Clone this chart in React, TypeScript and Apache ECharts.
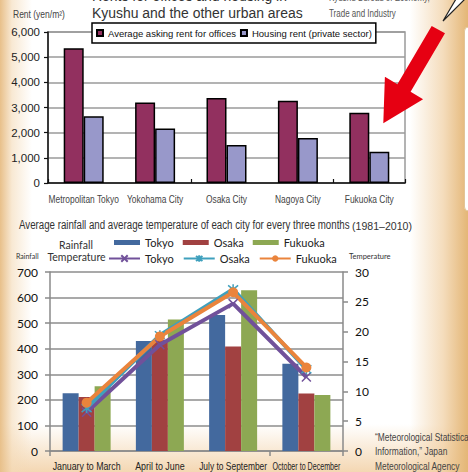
import React, { useEffect, useRef } from 'react';
import * as echarts from 'echarts';

const SANS = '"Liberation Sans", Arial, sans-serif';
const LATO = 'Lato, "Noto Sans", sans-serif';

// Top chart: rents (yen/m2)
const cities = ['Metropolitan Tokyo', 'Yokohama City', 'Osaka City', 'Nagoya City', 'Fukuoka City'];
const officeRent = [5350, 3200, 3380, 3270, 2790];
const housingRent = [2650, 2170, 1510, 1790, 1240];
const rentSeries = ['Average asking rent for offices', 'Housing rent (private sector)'];

// Bottom chart: rainfall (mm) and temperature (°C) per three months
const seasons = ['January to March', 'April to June', 'July to September', 'October to December'];
const rainTokyo = [226, 430, 532, 341];
const rainOsaka = [211, 434, 409, 225];
const rainFukuoka = [253, 514, 629, 219];
const tempTokyo = [6.5, 17.8, 24.7, 12.4];
const tempOsaka = [7.2, 19.4, 27.1, 13.7];
const tempFukuoka = [8.1, 19.2, 26.6, 14.0];
const cityNames = ['Tokyo', 'Osaka', 'Fukuoka'];

const X_SYMBOL = 'path://M0,0L10,10M10,0L0,10';
const STAR_SYMBOL = 'path://M1,1L9,9M9,1L1,9M5,0L5,10';

function txt(text: string, x: number, y: number, size: number, family: string, fill: string, opts: any = {}) {
  return {
    type: 'text',
    x,
    y,
    z: 50,
    silent: true,
    scaleX: opts.scaleX ?? 1,
    style: {
      text,
      fontSize: size,
      fontFamily: family,
      fill,
      align: opts.align ?? 'left',
      verticalAlign: 'middle',
    },
  };
}

let measureCtx: CanvasRenderingContext2D | null = null;
function textWidth(text: string, size: number, family: string) {
  if (!measureCtx) measureCtx = document.createElement('canvas').getContext('2d');
  if (!measureCtx) return text.length * size * 0.5;
  measureCtx.font = `${size}px ${family}`;
  return measureCtx.measureText(text).width;
}

export default function App() {
  const ref = useRef<HTMLDivElement>(null);
  useEffect(() => {
    if (!ref.current) return;
    const chart = echarts.init(ref.current, undefined, { renderer: 'svg' });
    const grayAxis = { color: '#8a8a8a', width: 1.5 };
    const option: any = {
      animation: false,
      textStyle: { fontFamily: SANS },
      grid: [
        { left: 48, top: 32, width: 357, height: 151, show: true, borderColor: '#9a9a9a', borderWidth: 1.5, backgroundColor: 'transparent' },
        { left: 50, top: 272, width: 293, height: 179 },
      ],
      xAxis: [
        {
          type: 'category', gridIndex: 0, data: cities,
          axisLine: { lineStyle: { color: '#111', width: 1.5 } },
          axisTick: { show: true, inside: true, length: 4, lineStyle: { color: '#111', width: 1.2 } },
          axisLabel: { show: false },
          splitLine: { show: false },
        },
        {
          type: 'category', gridIndex: 1, data: seasons,
          axisLine: { lineStyle: grayAxis },
          axisTick: { show: true, length: 5, lineStyle: grayAxis },
          axisLabel: { show: false },
          splitLine: { show: false },
        },
      ],
      yAxis: [
        {
          type: 'value', gridIndex: 0, min: 0, max: 6000, interval: 1000,
          axisLine: { show: true, lineStyle: { color: '#111', width: 1.5 } },
          axisTick: { show: true, length: 4, lineStyle: { color: '#111', width: 1.2 } },
          axisLabel: { color: '#222', fontSize: 11.5, fontFamily: SANS, margin: 8, formatter: (v: number) => v.toLocaleString('en-US') },
          splitLine: { lineStyle: { color: '#9a9a9a', width: 1.5 } },
        },
        {
          type: 'value', gridIndex: 1, min: 0, max: 700, interval: 100,
          axisLine: { show: true, lineStyle: grayAxis },
          axisTick: { show: true, length: 5, lineStyle: grayAxis },
          axisLabel: { color: '#111', fontSize: 12, fontFamily: LATO, margin: 12 },
          splitLine: { lineStyle: { color: '#8c8c8c', width: 1.5 } },
        },
        {
          type: 'value', gridIndex: 1, position: 'right', min: 0, max: 30, interval: 5,
          axisLine: { show: true, lineStyle: grayAxis },
          axisTick: { show: true, length: 5, lineStyle: grayAxis },
          axisLabel: { color: '#111', fontSize: 12, fontFamily: LATO, margin: 12 },
          splitLine: { show: false },
        },
      ],
      legend: [
        {
          data: rentSeries, left: 92, top: 23, padding: [5, 4, 5, 4], itemWidth: 6, itemHeight: 6, itemGap: 4,
          backgroundColor: '#fff', borderColor: '#000', borderWidth: 1.5, icon: 'rect', selectedMode: false,
          textStyle: { fontFamily: SANS, fontSize: 9.5, color: '#111' },
        },
        {
          data: cityNames, left: 114, top: 237, padding: 0, itemWidth: 26, itemHeight: 5, itemGap: 9, icon: 'rect',
          selectedMode: false, textStyle: { fontFamily: LATO, fontSize: 11, color: '#222' },
        },
        {
          data: cityNames.map((c) => c + ' temperature'), left: 108, top: 253, padding: 0, itemWidth: 31, itemHeight: 8,
          itemGap: 9, selectedMode: false, formatter: (n: string) => n.replace(' temperature', ''),
          textStyle: { fontFamily: LATO, fontSize: 11, color: '#222' },
        },
      ],
      series: [
        {
          name: rentSeries[0], type: 'bar', xAxisIndex: 0, yAxisIndex: 0, data: officeRent, barWidth: 20, barGap: '0%',
          itemStyle: { color: '#92305F', borderColor: '#000', borderWidth: 1.5 },
        },
        {
          name: rentSeries[1], type: 'bar', xAxisIndex: 0, yAxisIndex: 0, data: housingRent, barWidth: 20, barGap: '0%',
          itemStyle: { color: '#9898CA', borderColor: '#000', borderWidth: 1.5 },
        },
        { name: 'Tokyo', type: 'bar', xAxisIndex: 1, yAxisIndex: 1, data: rainTokyo, barWidth: 16, barGap: '0%', itemStyle: { color: '#43699E' } },
        { name: 'Osaka', type: 'bar', xAxisIndex: 1, yAxisIndex: 1, data: rainOsaka, barWidth: 16, barGap: '0%', itemStyle: { color: '#A14141' } },
        { name: 'Fukuoka', type: 'bar', xAxisIndex: 1, yAxisIndex: 1, data: rainFukuoka, barWidth: 16, barGap: '0%', itemStyle: { color: '#8DA853' } },
        {
          name: 'Tokyo temperature', type: 'line', xAxisIndex: 1, yAxisIndex: 2, data: tempTokyo,
          symbol: X_SYMBOL, symbolSize: 9, lineStyle: { color: '#71519A', width: 4 },
          itemStyle: { color: '#71519A', borderColor: '#71519A', borderWidth: 1.5 },
        },
        {
          name: 'Osaka temperature', type: 'line', xAxisIndex: 1, yAxisIndex: 2, data: tempOsaka,
          symbol: STAR_SYMBOL, symbolSize: 10, lineStyle: { color: '#3FA0BD', width: 4 },
          itemStyle: { color: '#3FA0BD', borderColor: '#3FA0BD', borderWidth: 1.5 },
        },
        {
          name: 'Fukuoka temperature', type: 'line', xAxisIndex: 1, yAxisIndex: 2, data: tempFukuoka,
          symbol: 'circle', symbolSize: 10, lineStyle: { color: '#EA843C', width: 4 },
          itemStyle: { color: '#EA843C', borderColor: '#EA843C', borderWidth: 0 },
        },
      ],
    };
    chart.setOption(option);

    // Category labels, placed at the category positions given by the chart's own axes
    const topBase = chart.convertToPixel({ yAxisIndex: 0 }, 0) as number;
    const bottomBase = chart.convertToPixel({ yAxisIndex: 1 }, 0) as number;
    const topLabels = cities.map((c) =>
      txt(c, chart.convertToPixel({ xAxisIndex: 0 }, c) as number, topBase + 16.5, 10.5, SANS, '#444', { align: 'center', scaleX: 0.8 })
    );
    const bottomLabels = seasons.map((s) => {
      const w = textWidth(s, 11, SANS);
      const sx = Math.min(0.81, 68 / w);
      return txt(s, chart.convertToPixel({ xAxisIndex: 1 }, s) as number, bottomBase + 15, 11, SANS, '#222', { align: 'center', scaleX: sx });
    });

    chart.setOption({
      graphic: [
        ...topLabels,
        ...bottomLabels,
        txt('Rents for offices and housing in', 92, -3.7, 15, SANS, '#333', { scaleX: 0.93 }),
        txt('Kyushu and the other urban areas', 92, 13.3, 15, SANS, '#333', { scaleX: 0.93 }),
        txt('Kyushu Bureau of Economy,', 329, -2, 10, SANS, '#555', { scaleX: 0.8 }),
        txt('Trade and Industry', 329, 13.3, 10, SANS, '#555', { scaleX: 0.8 }),
        txt('Rent (yen/m²)', 13, 15, 10, SANS, '#444', { scaleX: 0.85 }),
        txt('Average rainfall and average temperature of each city for every three months', 19, 225, 12.5, SANS, '#333', { scaleX: 0.777 }),
        txt('(1981–2010)', 352, 225.5, 11.5, SANS, '#333', { scaleX: 0.92 }),
        txt('Rainfall', 76, 245, 10.5, LATO, '#333', { align: 'center' }),
        txt('Temperature', 76.5, 257, 10.5, LATO, '#333', { align: 'center' }),
        txt('Rainfall', 16, 256, 7, LATO, '#333'),
        txt('Temperature', 349, 256.5, 7.5, LATO, '#333'),
        txt('“Meteorological Statistical', 375, 437, 10.5, SANS, '#444', { scaleX: 0.8 }),
        txt('Information,” Japan', 375, 451, 10.5, SANS, '#444', { scaleX: 0.8 }),
        txt('Meteorological Agency', 375, 466, 10.5, SANS, '#444', { scaleX: 0.8 }),
        {
          type: 'rect', z: 40, silent: true,
          shape: { x: 464.5, y: 27, width: 12, height: 184, r: 4 },
          style: { fill: '#ffffff', stroke: '#e2c598', lineWidth: 1 },
        },
        {
          type: 'polygon', z: 60, silent: true,
          shape: { points: [[443, 21], [456, -1], [465, -1]] },
          style: { fill: '#ffffff', stroke: '#222', lineWidth: 1.2 },
        },
        {
          type: 'polygon', z: 60, silent: true,
          shape: {
            points: [
              [431.7, 26], [445, 33.3], [410.6, 91.8], [423.1, 99.2], [383.3, 123.3], [384.9, 76.8], [397.4, 84.2],
            ],
          },
          style: { fill: '#E60012' },
        },
      ],
    });
    return () => chart.dispose();
  }, []);

  return (
    <div
      style={{
        position: 'absolute',
        left: 0,
        top: 0,
        width: 468,
        height: 472,
        background:
          'linear-gradient(to right, rgba(232,192,138,1) 0px, rgba(244,218,182,0.6) 12px, rgba(255,255,255,0) 32px),' +
          'linear-gradient(to left, rgba(228,182,118,1) 0px, rgba(240,206,160,0.7) 25px, rgba(255,255,255,0) 58px),' +
          'linear-gradient(to top, rgba(242,208,165,0.85) 0px, rgba(255,255,255,0) 48px),' +
          '#ffffff',
      }}
    >
      <div ref={ref} style={{ width: 468, height: 472 }} />
    </div>
  );
}
